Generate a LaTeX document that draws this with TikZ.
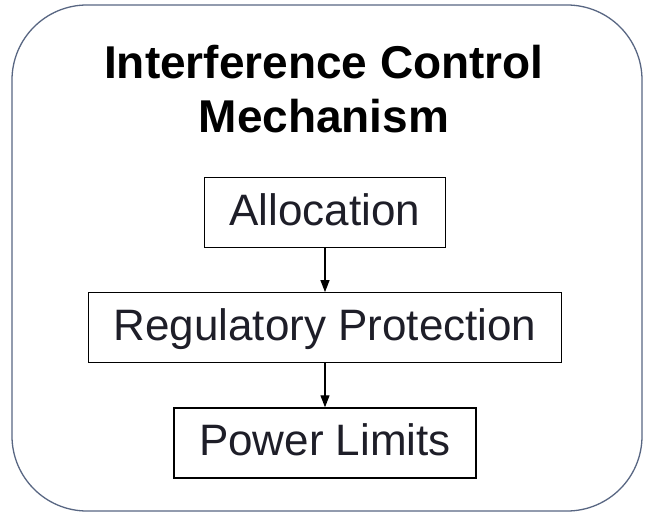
\documentclass[tikz,border=0pt]{standalone}
\usepackage{fontspec}
\setmainfont{Liberation Sans}
\usetikzlibrary{arrows.meta}
\usetikzlibrary{positioning}
\definecolor{frameblue}{RGB}{88,102,130}
\definecolor{boxtext}{RGB}{30,30,40}

\begin{document}
\begin{tikzpicture}[%
        x=1pt, y=-1pt,
        stagebox/.style={draw, rectangle, line width=1.2pt, inner xsep=25pt, inner ysep=0pt,
          text height=34pt, text depth=9pt,
          minimum height=70pt, text=boxtext, font=\fontsize{44}{50}\selectfont},
        titletext/.style={align=center, inner sep=0pt, font=\bfseries\fontsize{46}{54}\selectfont},
        shorten >=0pt,
        node distance=44pt
      ]
      \useasboundingbox (0,0) rectangle (645,514);
      \draw [frameblue, line width=1.3pt, rounded corners=75pt] (12,5) rectangle (642,511);
      \node (title) [titletext, anchor=north] at (324,44.5) {Interference Control\\Mechanism};
      \node (alloc) [stagebox] at (325,212.5) {Allocation};
      \node (reg) [stagebox, below=of alloc] {Regulatory Protection};
      \node (power) [stagebox, below=of reg] {Power Limits};
      \path [draw, line width=1.2pt] (alloc) edge[-{Triangle[length=12pt,width=9pt]}] (reg)
      (reg) edge[-{Triangle[length=12pt,width=9pt]}] (power);
    \end{tikzpicture}
\end{document}
